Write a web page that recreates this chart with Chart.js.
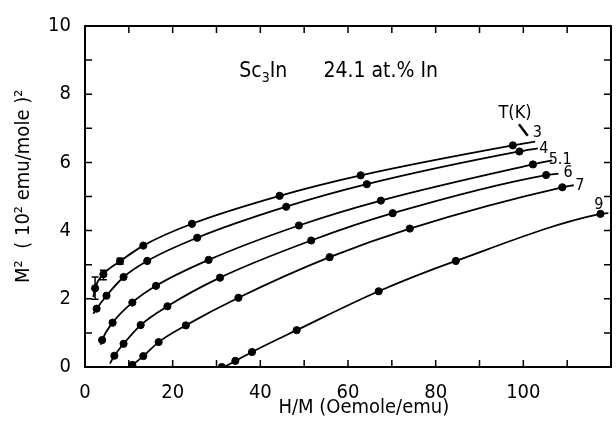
<!DOCTYPE html>
<html>
<head>
<meta charset="utf-8">
<script src="https://cdn.jsdelivr.net/npm/chart.js@4"></script>
<style>
  html, body { margin: 0; padding: 0; background: #fff; }
  canvas { display: block; }
</style>
</head>
<body>
<canvas id="chart" width="616" height="425"></canvas>
<script>
const FONT = "'Liberation Sans Narrow', 'DejaVu Sans Condensed', 'Liberation Sans', sans-serif";

// measured points, H/M (Oe mole/emu) vs M^2 (10^2 emu/mole)^2
const temps = ['3', '4', '5.1', '6', '7', '9'];
const hm3 = [2.3, 4.2, 8.0, 13.3, 24.4, 44.4, 62.9, 97.6];
const m3 = [2.31, 2.72, 3.10, 3.56, 4.20, 5.02, 5.62, 6.50];
const hm4 = [2.65, 4.9, 8.8, 14.2, 25.6, 45.9, 64.3, 99.1];
const m4 = [1.71, 2.09, 2.64, 3.11, 3.79, 4.70, 5.36, 6.32];
const hm51 = [3.9, 6.3, 10.8, 16.2, 28.2, 48.8, 67.5, 102.2];
const m51 = [0.79, 1.30, 1.89, 2.38, 3.14, 4.15, 4.88, 5.94];
const hm6 = [6.7, 8.8, 12.7, 18.8, 30.8, 51.6, 70.2, 105.2];
const m6 = [0.33, 0.68, 1.23, 1.78, 2.62, 3.71, 4.51, 5.63];
const hm7 = [10.8, 13.3, 16.8, 23.0, 35.0, 55.8, 74.1, 108.9];
const m7 = [0.06, 0.32, 0.73, 1.22, 2.03, 3.22, 4.06, 5.27];
const hm9 = [31.2, 34.3, 38.1, 48.3, 67.0, 84.6, 117.6];
const m9 = [0.0, 0.18, 0.44, 1.08, 2.22, 3.11, 4.49];

// where each drawn curve starts and ends
const startHM = [1.9, 1.9, 3.6, 5.7, 10.0, 31.2];
const startM = [2.05, 1.56, 0.65, 0.10, 0.0, 0.0];
const endHM = [102.7, 103.3, 106.6, 108.0, 111.5, 119.4];
const endM = [6.61, 6.41, 6.06, 5.67, 5.33, 4.51];

// temperature labels at curve ends
const labelHM = [103.2, 104.7, 108.4, 110.2, 112.9, 117.2];
const labelM = [6.88, 6.40, 6.08, 5.68, 5.31, 4.75];

// error bars on the 3 K curve
const errHM = [2.3, 4.2, 8.0];
const errLo = [1.99, 2.56, 3.01];
const errHi = [2.64, 2.84, 3.19];

const xTicks = [0, 20, 40, 60, 80, 100];
const yTicks = [0, 2, 4, 6, 8, 10];

const allHM = [hm3, hm4, hm51, hm6, hm7, hm9];
const allM = [m3, m4, m51, m6, m7, m9];

const datasets = [];
allHM.forEach(function(hm, i) {
  const pts = hm.map(function(x, j) { return { x: x, y: allM[i][j] }; });
  const curve = [{ x: startHM[i], y: startM[i] }].concat(pts, [{ x: endHM[i], y: endM[i] }]);
  datasets.push({
    label: temps[i] + ' K curve',
    data: curve,
    showLine: true,
    borderColor: '#000',
    borderWidth: 1.8,
    pointRadius: 0,
    cubicInterpolationMode: 'monotone'
  });
  datasets.push({
    label: temps[i] + ' K',
    data: pts,
    showLine: false,
    pointRadius: 3.6,
    pointBackgroundColor: '#000',
    pointBorderColor: '#000'
  });
});

const decorations = {
  id: 'decorations',
  afterDatasetsDraw(chart) {
    const c = chart.ctx;
    const xs = chart.scales.x;
    const ys = chart.scales.y;
    const a = chart.chartArea;
    c.save();
    c.strokeStyle = '#000';
    c.fillStyle = '#000';

    // frame
    c.lineWidth = 2;
    c.strokeRect(a.left, a.top, a.right - a.left, a.bottom - a.top);

    // inward ticks on all four sides
    c.lineWidth = 1.5;
    c.beginPath();
    for (let v = 0; v <= 120; v += 10) {
      const px = xs.getPixelForValue(v);
      c.moveTo(px, a.bottom); c.lineTo(px, a.bottom - 7);
      c.moveTo(px, a.top); c.lineTo(px, a.top + 7);
    }
    for (let v = 0; v <= 10; v += 1) {
      const py = ys.getPixelForValue(v);
      c.moveTo(a.left, py); c.lineTo(a.left + 7, py);
      c.moveTo(a.right, py); c.lineTo(a.right - 7, py);
    }
    c.stroke();

    // error bars
    c.lineWidth = 1.5;
    errHM.forEach(function(x, i) {
      const px = xs.getPixelForValue(x);
      const lo = ys.getPixelForValue(errLo[i]);
      const hi = ys.getPixelForValue(errHi[i]);
      c.beginPath();
      c.moveTo(px, lo); c.lineTo(px, hi);
      c.moveTo(px - 3.5, lo); c.lineTo(px + 3.5, lo);
      c.moveTo(px - 3.5, hi); c.lineTo(px + 3.5, hi);
      c.stroke();
    });

    // temperature labels
    c.font = '16px ' + FONT;
    c.textAlign = 'center';
    c.textBaseline = 'middle';
    temps.forEach(function(t, i) {
      c.fillText(t, xs.getPixelForValue(labelHM[i]), ys.getPixelForValue(labelM[i]));
    });
    c.font = '18px ' + FONT;
    c.fillText('T(K)', xs.getPixelForValue(98.1), ys.getPixelForValue(7.43));
    c.lineWidth = 2.5;
    c.beginPath();
    c.moveTo(xs.getPixelForValue(99.0), ys.getPixelForValue(7.12));
    c.lineTo(xs.getPixelForValue(101.0), ys.getPixelForValue(6.78));
    c.stroke();

    // title, with a real subscript
    const ty = ys.getPixelForValue(8.67);
    c.textAlign = 'left';
    c.font = '21px ' + FONT;
    let tx = xs.getPixelForValue(35.2);
    c.fillText('Sc', tx, ty);
    tx += c.measureText('Sc').width;
    c.font = '14px ' + FONT;
    c.fillText('3', tx, ty + 7);
    tx += c.measureText('3').width;
    c.font = '21px ' + FONT;
    c.fillText('In', tx, ty);
    c.fillText('24.1 at.% In', xs.getPixelForValue(54.4), ty);

    // axis titles
    c.font = '20px ' + FONT;
    c.textAlign = 'center';
    c.fillText('H/M (Oemole/emu)', xs.getPixelForValue(63.6), 408);
    c.translate(24, ys.getPixelForValue(5.3));
    c.rotate(-Math.PI / 2);
    c.fillText('M\u00B2  ( 10\u00B2 emu/mole )\u00B2', 0, 0);
    c.restore();
  }
};

new Chart(document.getElementById('chart'), {
  type: 'scatter',
  data: { datasets: datasets },
  options: {
    responsive: false,
    animation: false,
    devicePixelRatio: 1,
    layout: { padding: { top: 16, right: 3, left: 0, bottom: 0 } },
    plugins: { legend: { display: false }, tooltip: { enabled: false } },
    scales: {
      x: {
        type: 'linear',
        min: 0,
        max: 120,
        afterFit: function(s) { s.height = 58; },
        afterBuildTicks: function(s) { s.ticks = xTicks.map(function(v) { return { value: v }; }); },
        grid: { display: false, drawTicks: false },
        border: { display: false },
        ticks: { color: '#000', padding: 14, font: { family: FONT, size: 20 } }
      },
      y: {
        type: 'linear',
        min: 0,
        max: 10,
        afterFit: function(s) { s.width = 85; },
        afterBuildTicks: function(s) { s.ticks = yTicks.map(function(v) { return { value: v }; }); },
        grid: { display: false, drawTicks: false },
        border: { display: false },
        ticks: { color: '#000', padding: 14, font: { family: FONT, size: 20 } }
      }
    }
  },
  plugins: [decorations]
});
</script>
</body>
</html>
